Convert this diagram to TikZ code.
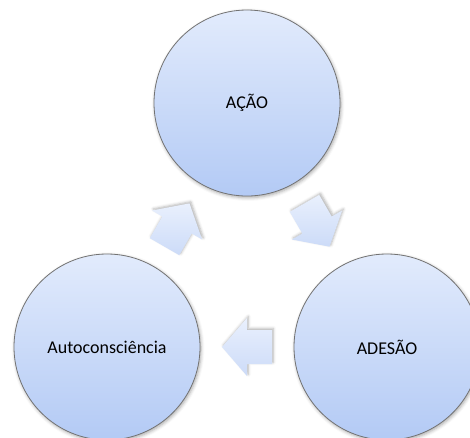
\documentclass[tikz,border=0pt]{standalone}
\usepackage{fontspec}
\setmainfont{Carlito}
\usepackage{xcolor}
\usepackage{tikz}
\usetikzlibrary{calc}
\usetikzlibrary{shadows.blur}

\definecolor{circtop}{HTML}{E2EBFC}
\definecolor{circbot}{HTML}{B3CAF5}
\definecolor{arrtop}{HTML}{E9F0FD}
\definecolor{arrbot}{HTML}{CCDBF8}

\tikzset{
  cyclecirc/.style={circle, draw=black!55, line width=0.6pt, inner sep=0pt,
    minimum size=139.5pt, top color=circtop, bottom color=circbot,
    blur shadow={shadow xshift=0.8pt, shadow yshift=-1.2pt, shadow blur radius=2.5pt, shadow opacity=35},
    font=\fontsize{13.5}{16}\selectfont},
  cyclearrow/.style={draw=none, top color=arrtop, bottom color=arrbot,
    blur shadow={shadow xshift=1pt, shadow yshift=1.2pt, shadow blur radius=2pt, shadow opacity=30}}
}

\begin{document}
\begin{tikzpicture}[x=0.75pt,y=0.75pt,yscale=-1,xscale=1]
\useasboundingbox (0,0) rectangle (470,437);

%Shape: Circles
\node[cyclecirc] (acao) at (247,103) {AÇÃO};
\node[cyclecirc] (adesao) at (387,347) {ADESÃO};
\node[cyclecirc] (auto) at (107,347) {Autoconsciência};

%Shape: Block arrows between the circles
\foreach \pa/\pb/\ang in {acao/adesao/60, adesao/auto/180, auto/acao/-60}{
  \coordinate (m) at ($(\pa)!0.5!(\pb)$);
  \draw[cyclearrow] ($(m)+(\ang:25)$) -- ($(m)+(\ang+90:29)$) -- ($(m)+(\ang+90:17)$)
    -- ($(m)+(\ang+145.8:30.23)$) -- ($(m)+(\ang-145.8:30.23)$) -- ($(m)+(\ang-90:17)$)
    -- ($(m)+(\ang-90:29)$) -- cycle;
}

\end{tikzpicture}
\end{document}
